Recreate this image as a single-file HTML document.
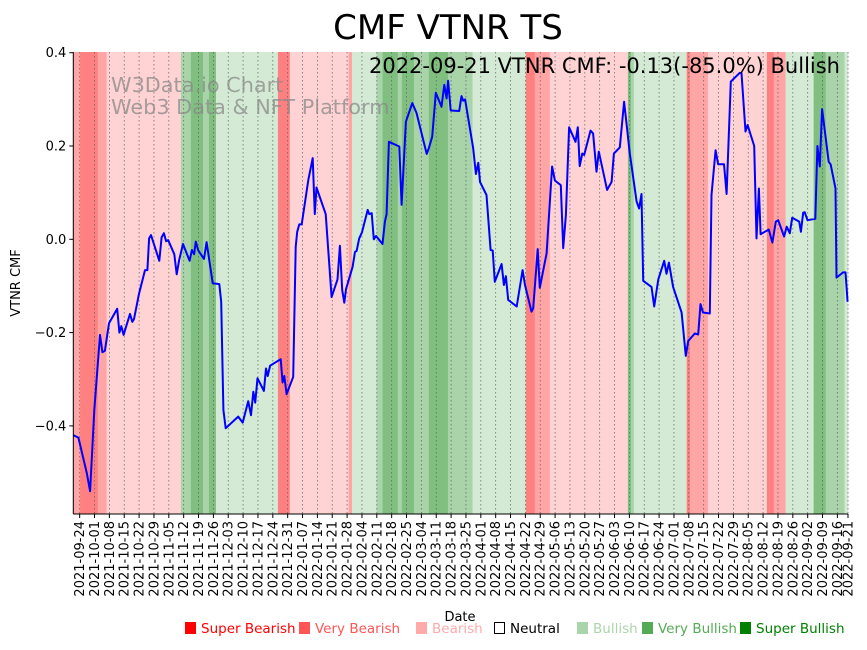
<!DOCTYPE html>
<html>
<head>
<meta charset="utf-8">
<style>
  html, body { margin:0; padding:0; background:#fff; }
  body { width:867px; height:646px; overflow:hidden; font-family:"DejaVu Sans","Liberation Sans",sans-serif; }
  svg text { font-family:"DejaVu Sans","Liberation Sans",sans-serif; }
</style>
</head>
<body>
<svg id="chart" width="867" height="646" viewBox="0 0 867 646" xmlns="http://www.w3.org/2000/svg">
  <text x="448" y="39" font-size="34" text-anchor="middle" fill="#000">CMF VTNR TS</text>
  <g id="bands"></g>
  <g id="grid"></g>
  <text x="111" y="92" font-size="20.8" fill="#888" fill-opacity="0.75">W3Data.io Chart</text>
  <text x="111" y="114" font-size="20.8" fill="#888" fill-opacity="0.75">Web3 Data &amp; NFT Platform</text>
  <path id="line" fill="none" stroke="#0000ff" stroke-width="2" stroke-linejoin="round"></path>
  <text x="840" y="73" font-size="21" text-anchor="end" fill="#000">2022-09-21 VTNR CMF: -0.13(-85.0%) Bullish</text>
  <g id="axes"></g>
  <g id="yticks"></g>
  <g id="xticks"></g>
  <text transform="translate(20,283) rotate(-90)" font-size="13" text-anchor="middle">VTNR CMF</text>
  <text x="460" y="621" font-size="13" text-anchor="middle">Date</text>
  <g id="legend"></g>
</svg>
<script>
// ---- data ----
const startDate = "2021-09-21";
const totalDays = 365;
const dayOffsets = [0,2.4,6.3,7.9,9.9,12.6,13.7,14.9,16.8,20.7,21.7,22.6,23.7,26.7,27.8,28.6,30.9,33.8,34.9,35.7,36.6,40.5,41.6,42.7,43.7,44.7,47.6,48.7,49.9,51.7,54.8,55.9,56.9,57.7,58.9,61.6,62.8,65.7,68.8,69.7,70.7,71.8,77.7,79.8,82.4,83.7,84.8,85.7,86.8,89.8,90.8,91.6,92.7,97.7,98.6,99.4,100.5,103.6,104.8,105.5,106.5,107.6,110.7,112.8,113.8,114.6,118.9,121.7,124.5,125.6,126.7,127.7,128.5,131.6,132.7,133.5,134.7,136,138.7,139.4,140.6,141.6,142.6,145.7,146.8,147.6,148.7,153.6,154.7,156.7,159.7,161.7,166.5,167.5,169.1,170.8,173.5,174.8,175.9,176.6,177.8,181.8,182.9,183.7,184.6,188.4,189.7,190.8,191.6,194.7,196.6,197.6,198.6,201.8,202.9,203.8,204.9,208.9,211.7,212.8,215.9,216.7,218.8,219.8,223,225.6,226.9,229.7,230.8,232.1,233.6,236.6,237.7,238.6,239.8,240.7,243.7,244.9,246.5,247.6,251.5,253.6,254.7,257.5,259.5,262.2,265.4,266.6,267.7,268.5,272.4,273.7,275.6,278.4,279.5,280.6,282.6,286.6,288.6,289.7,292.8,294.4,295.5,296.7,299.9,300.7,302.6,303.8,306.6,307.8,309.8,314,314.8,316.7,317.7,320.8,321.9,323,323.8,327.7,329.4,331,332.1,334.9,336.1,337.6,338.7,342,342.8,343.9,344.6,345.9,349.6,350.6,351.7,352.8,355.9,356.8,359.1,359.6,362.7,363.8,364.8];
const cmfValues = [-0.42,-0.425,-0.50,-0.54,-0.366,-0.205,-0.242,-0.239,-0.18,-0.149,-0.2,-0.186,-0.205,-0.16,-0.177,-0.171,-0.118,-0.066,-0.066,0.002,0.009,-0.046,0.004,0.013,-0.004,-0.002,-0.032,-0.075,-0.044,-0.01,-0.046,-0.023,-0.032,-0.005,-0.024,-0.042,-0.006,-0.094,-0.096,-0.134,-0.366,-0.405,-0.38,-0.393,-0.347,-0.377,-0.327,-0.35,-0.298,-0.325,-0.277,-0.293,-0.271,-0.257,-0.307,-0.293,-0.332,-0.295,-0.016,0.016,0.032,0.032,0.127,0.174,0.054,0.111,0.054,-0.124,-0.086,-0.014,-0.109,-0.136,-0.107,-0.059,-0.027,-0.025,0.002,0.015,0.063,0.054,0.056,0,0.007,-0.01,0.038,0.054,0.209,0.199,0.074,0.252,0.292,0.271,0.183,0.195,0.22,0.314,0.284,0.331,0.302,0.34,0.276,0.275,0.307,0.297,0.3,0.195,0.14,0.164,0.123,0.095,-0.023,-0.024,-0.091,-0.053,-0.098,-0.079,-0.13,-0.144,-0.066,-0.098,-0.155,-0.148,-0.021,-0.104,-0.03,0.156,0.126,0.116,-0.019,0.052,0.24,0.209,0.24,0.157,0.184,0.181,0.233,0.227,0.145,0.188,0.106,0.123,0.184,0.197,0.295,0.184,0.081,0.066,0.097,-0.089,-0.102,-0.144,-0.086,-0.046,-0.074,-0.05,-0.102,-0.157,-0.25,-0.218,-0.202,-0.204,-0.139,-0.157,-0.159,0.095,0.191,0.161,0.161,0.097,0.338,0.357,0.356,0.231,0.245,0.2,0.002,0.109,0.011,0.021,-0.007,0.038,0.041,0.006,0.027,0.013,0.046,0.038,0.016,0.057,0.058,0.041,0.044,0.2,0.156,0.279,0.166,0.161,0.109,-0.082,-0.071,-0.071,-0.134];
// signal bands: start day, end day, level (-3..3)
const bandStarts = [0,3.2,11.5,15.7,50.7,55.4,61.1,63.9,67.2,96.4,102,129.7,131.3,142.9,145.7,152.9,154.8,160.5,167.5,176.5,184.9,188.1,213.2,217.4,224.5,261.3,262.8,264.1,289,290.5,299,326.8,330,335.6,348.8,354.5,363.4];
const bandEnds   = [3.2,11.5,15.7,50.7,55.4,61.1,63.9,67.2,96.4,102,129.7,131.3,142.9,145.7,152.9,154.8,160.5,167.5,176.5,184.9,188.1,213.2,217.4,224.5,261.3,262.8,264.1,289,290.5,299,326.8,330,335.6,348.8,354.5,363.4,365];
const bandLevels = [-2,-3,-2,-1,2,3,2,3,1,-3,-1,-2,1,2,3,2,3,2,3,2,2,1,-3,-2,-1,3,2,1,-3,-2,-1,-3,-2,1,3,2,1];
const yTickValues = [0.4,0.2,0.0,-0.2,-0.4];
const yTickLabels = ["0.4","0.2","0.0","−0.2","−0.4"];
const legendLabels = ["Super Bearish","Very Bearish","Bearish","Neutral","Bullish","Very Bullish","Super Bullish"];

// ---- layout ----
const X0 = 73.3, X1 = 848, Y_TOP = 52, Y_BOT = 514;
const V0 = 0.0, PY0 = 239.3, PX_PER_UNIT = 466.5;
const xScale = d => X0 + d * (X1 - X0) / totalDays;
const yScale = v => PY0 - (v - V0) * PX_PER_UNIT;
const NS = "http://www.w3.org/2000/svg";
const bandColor = {"-3":"#ff8080","-2":"#ffa5a5","-1":"#ffd3d3","0":"#ffffff","1":"#d4ead4","2":"#a9d4a9","3":"#80bf80"};
function mk(tag, attrs, parent){ const e=document.createElementNS(NS,tag); for(const k in attrs) e.setAttribute(k,attrs[k]); parent.appendChild(e); return e; }

// bands
const gB = document.getElementById('bands');
bandStarts.forEach((s,i)=>{
  const r = mk('rect',{x:xScale(s), y:Y_TOP, width:Math.max(0,xScale(bandEnds[i])-xScale(s))+0.3, height:Y_BOT-Y_TOP, fill:bandColor[bandLevels[i]]}, gB);
  
  
});

// x ticks weekly from 2021-09-24, plus final date
const base = new Date(startDate+"T00:00:00Z");
function fmt(d){ const t=new Date(base.getTime()+d*86400000); return t.toISOString().slice(0,10); }
const tickDays = [];
for(let d=3; d<=totalDays-3; d+=7) tickDays.push(d);
tickDays.push(totalDays);
const gG = document.getElementById('grid');
const gX = document.getElementById('xticks');
tickDays.forEach(d=>{
  const x = xScale(d);
  const gl = mk('line',{x1:x,x2:x,y1:Y_TOP,y2:Y_BOT,stroke:'#555','stroke-width':0.8,'stroke-dasharray':'1.5,2.5','stroke-opacity':0.8}, gG);
  
  
  const tk = mk('line',{x1:x,x2:x,y1:Y_BOT,y2:Y_BOT+4,stroke:'#000','stroke-width':1}, gX);
  
  
  const t = mk('text',{transform:`translate(${x+4.5},${Y_BOT+7}) rotate(-90)`,'font-size':13,'text-anchor':'end'}, gX);
  
  
  t.textContent = fmt(d);
});

// line
let dstr = '';
dayOffsets.forEach((d,i)=>{ dstr += (i?'L':'M') + xScale(d).toFixed(1) + ',' + yScale(cmfValues[i]).toFixed(1); });
document.getElementById('line').setAttribute('d', dstr);

// axes
const gA = document.getElementById('axes');
const la = mk('line',{x1:X0,x2:X0,y1:Y_TOP,y2:Y_BOT,stroke:'#000','stroke-width':1}, gA);


const lb = mk('line',{x1:X0,x2:X1,y1:Y_BOT,y2:Y_BOT,stroke:'#000','stroke-width':1}, gA);



// y ticks
const gY = document.getElementById('yticks');
yTickValues.forEach((v,i)=>{
  const y = yScale(v);
  const tk = mk('line',{x1:X0-4,x2:X0,y1:y,y2:y,stroke:'#000','stroke-width':1}, gY);
  
  
  const t = mk('text',{x:X0-7,y:y+4.5,'font-size':13,'text-anchor':'end'}, gY);
  
  
  t.textContent = yTickLabels[i];
});

// legend
const legendColors = ["#ff0000","#ff5555","#ffaaaa","#000000","#aad5aa","#55aa55","#008000"];
const legendX = [185,299,416,494,577,642,740];
const gL = document.getElementById('legend');
legendLabels.forEach((lab,i)=>{
  const g = mk('g',{}, gL);
  
  
  if(i===3){
    mk('rect',{x:legendX[i]+0.5,y:622.5,width:10,height:11,fill:'#fff',stroke:'#000','stroke-width':1}, g);
  } else {
    mk('rect',{x:legendX[i],y:622,width:11,height:12,fill:legendColors[i]}, g);
  }
  const t = mk('text',{x:legendX[i]+16,y:633,'font-size':13.5,fill:legendColors[i]}, g);
  t.textContent = lab;
});
</script>
</body>
</html>
